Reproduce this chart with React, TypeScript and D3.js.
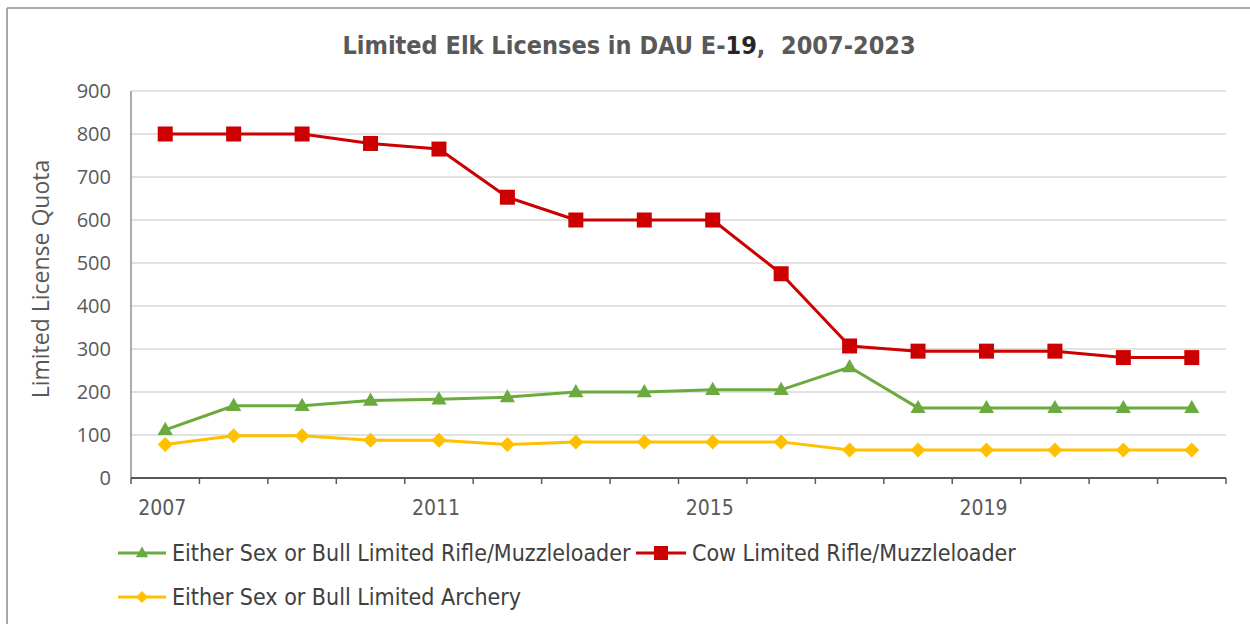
import React from "react";
import * as d3 from "d3";

const years = [2007, 2008, 2009, 2010, 2011, 2012, 2013, 2014, 2015, 2016, 2017, 2018, 2019, 2020, 2021, 2022];
const cowRifle = [800, 800, 800, 778, 765, 653, 600, 600, 600, 475, 307, 295, 295, 295, 280, 280];
const eitherRifle = [112, 168, 168, 180, 183, 188, 200, 200, 205, 205, 258, 163, 163, 163, 163, 163];
const eitherArchery = [78, 98, 98, 88, 88, 78, 84, 84, 84, 84, 65, 65, 65, 65, 65, 65];
const yTicks = [0, 100, 200, 300, 400, 500, 600, 700, 800, 900];
const xLabelYears = [2007, 2011, 2015, 2019];

const W = 1250;
const H = 624;
const left = 131;
const right = 1226;
const top = 91;
const bottom = 478;

const GREEN = "#6BAA3F";
const RED = "#CC0000";
const YELLOW = "#FFC000";

export default function App() {
  const x = d3.scaleBand<number>().domain(years).range([left, right]);
  const y = d3.scaleLinear().domain([0, 900]).range([bottom, top]);
  const cx = (yr: number) => (x(yr) as number) + x.bandwidth() / 2;
  const line = d3
    .line<number>()
    .x((_, i) => cx(years[i]))
    .y((v) => y(v));

  const tickXs = years.map((yr) => x(yr) as number).concat([right]);

  const tri = (px: number, py: number, s: number) =>
    `M${px},${py - s} L${px + s * 0.95},${py + s * 0.65} L${px - s * 0.95},${py + s * 0.65} Z`;
  const dia = (px: number, py: number, s: number) =>
    `M${px},${py - s} L${px + s},${py} L${px},${py + s} L${px - s},${py} Z`;

  const condensed = "'Liberation Sans Narrow', 'DejaVu Sans Condensed', 'Open Sans', sans-serif";

  return (
    <svg width={W} height={H} style={{ position: "absolute", left: 0, top: 0, background: "#fff" }}>
      <rect x={0} y={0} width={W} height={H} fill="#fff" />
      {/* chart border */}
      <line x1={7} y1={8} x2={W} y2={8} stroke="#8c8c8c" strokeWidth={1.5} />
      <line x1={7} y1={8} x2={7} y2={H} stroke="#8c8c8c" strokeWidth={1.5} />

      {/* title */}
      <text
        x={629}
        y={54}
        textAnchor="middle"
        fontFamily="'DejaVu Sans Condensed', 'DejaVu Sans', sans-serif"
        fontWeight="bold"
        fontSize={25}
        fill="#595959"
      >
        Limited Elk Licenses in DAU E-<tspan fill="#262626">19</tspan>,{"\u00A0 "}2007-2023
      </text>

      {/* gridlines */}
      {yTicks.map((t) =>
        t === 0 ? null : (
          <line key={"g" + t} x1={left} x2={right} y1={y(t)} y2={y(t)} stroke="#d9d9d9" strokeWidth={1.3} />
        )
      )}

      {/* y axis */}
      <line x1={left} x2={left} y1={top} y2={bottom} stroke="#7f7f7f" strokeWidth={1.3} />
      {yTicks.map((t) => (
        <text
          key={"yt" + t}
          x={111}
          y={y(t) + 7}
          textAnchor="end"
          fontFamily="'Open Sans', sans-serif"
          fontSize={20}
          fill="#595959"
        >
          {t}
        </text>
      ))}
      <text
        transform={`translate(49, 279) rotate(-90)`}
        textAnchor="middle"
        fontFamily="'Open Sans', sans-serif"
        fontSize={23}
        fill="#595959"
      >
        Limited License Quota
      </text>

      {/* x axis */}
      <line x1={left} x2={right} y1={bottom} y2={bottom} stroke="#595959" strokeWidth={2} />
      {tickXs.map((tx, i) => (
        <line key={"xt" + i} x1={tx} x2={tx} y1={bottom} y2={bottom + 6} stroke="#595959" strokeWidth={1.5} />
      ))}
      {xLabelYears.map((yr) => (
        <text
          key={"xl" + yr}
          x={cx(yr) - 3}
          y={515}
          textAnchor="middle"
          fontFamily={condensed}
          fontSize={21}
          fill="#595959"
        >
          {yr}
        </text>
      ))}

      {/* series lines */}
      <path d={line(eitherArchery) || ""} fill="none" stroke={YELLOW} strokeWidth={3} strokeLinejoin="round" />
      <path d={line(eitherRifle) || ""} fill="none" stroke={GREEN} strokeWidth={3} strokeLinejoin="round" />
      <path d={line(cowRifle) || ""} fill="none" stroke={RED} strokeWidth={3} strokeLinejoin="round" />

      {/* markers */}
      {eitherArchery.map((v, i) => (
        <path key={"ya" + i} d={dia(cx(years[i]), y(v), 7.5)} fill={YELLOW} />
      ))}
      {eitherRifle.map((v, i) => (
        <path key={"gr" + i} d={tri(cx(years[i]), y(v), 8)} fill={GREEN} />
      ))}
      {cowRifle.map((v, i) => (
        <rect key={"rc" + i} x={cx(years[i]) - 7.5} y={y(v) - 7.5} width={15} height={15} fill={RED} />
      ))}

      {/* legend */}
      <g fontFamily={condensed} fontSize={23} fill="#404040">
        <line x1={118} x2={166} y1={553} y2={553} stroke={GREEN} strokeWidth={3} />
        <path d={tri(142, 553, 6.5)} fill={GREEN} />
        <text x={172} y={561}>Either Sex or Bull Limited Rifle/Muzzleloader</text>

        <line x1={636} x2={686} y1={553} y2={553} stroke={RED} strokeWidth={3} />
        <rect x={654} y={546} width={14} height={14} fill={RED} />
        <text x={692} y={561}>Cow Limited Rifle/Muzzleloader</text>

        <line x1={118} x2={166} y1={597} y2={597} stroke={YELLOW} strokeWidth={3} />
        <path d={dia(142, 597, 6)} fill={YELLOW} />
        <text x={172} y={605}>Either Sex or Bull Limited Archery</text>
      </g>
    </svg>
  );
}
